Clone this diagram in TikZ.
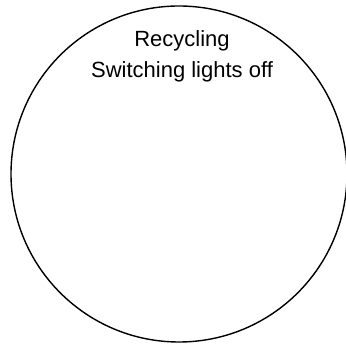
\documentclass[tikz,border=0pt]{standalone}
\usepackage{fontspec}
\setmainfont{Liberation Sans}
\begin{document}
\begin{tikzpicture}[x=1pt,y=1pt]
\useasboundingbox (0,0) rectangle (346,345);
\node[circle,draw,line width=1.4pt,inner sep=0pt,minimum size=336pt] (ring) at (179,171) {};
\node[anchor=base,font=\fontsize{22}{26}\selectfont] (recycling) at (182,298) {Recycling};
\node[anchor=base,font=\fontsize{22}{26}\selectfont] (lights) at (182,267) {Switching lights off};
\end{tikzpicture}
\end{document}
